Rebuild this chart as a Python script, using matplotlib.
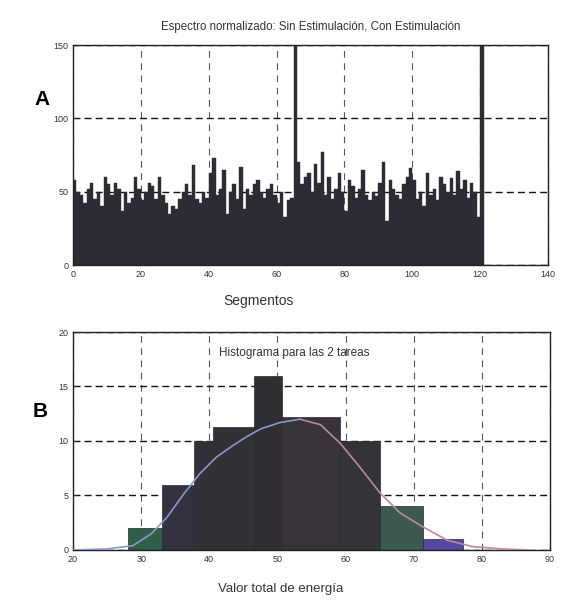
import numpy as np
import matplotlib
matplotlib.use("Agg")
import matplotlib.pyplot as plt

plt.rcParams['font.family'] = ['Liberation Sans', 'DejaVu Sans']

# Panel A: espectro normalizado por segmento
espectro = [58, 50, 48, 42, 52, 56, 45, 50, 40, 60, 55, 48, 56, 52, 37, 50, 42, 46, 60, 52,
            44, 50, 56, 54, 45, 60, 48, 42, 35, 40, 38, 45, 50, 55, 48, 68, 45, 42, 50, 46,
            63, 73, 48, 52, 65, 35, 50, 55, 45, 67, 38, 52, 48, 55, 58, 50, 46, 52, 55, 48,
            42, 50, 33, 44, 46, 150, 70, 55, 60, 63, 50, 69, 56, 77, 48, 60, 45, 52, 63, 50,
            37, 58, 54, 46, 52, 65, 48, 44, 50, 47, 56, 70, 30, 58, 52, 48, 45, 55, 60, 66,
            58, 45, 50, 40, 63, 48, 52, 44, 60, 55, 50, 59, 48, 64, 52, 58, 46, 56, 50, 33,
            150]
segmentos = np.arange(len(espectro))

# Panel B: histograma de energia total
bordes = [28.1, 33.0, 37.7, 40.6, 46.5, 50.6, 59.2, 65.1, 71.4, 77.3]
conteos = [2, 6, 10, 11.3, 16, 12.2, 10, 4, 1]
colores_hist = ['#2f5f48', '#34323f', '#333038', '#333036', '#302e33', '#38333a',
                '#35333a', '#3c5a52', '#5548a0']

# curva ajustada
curva_x = [20, 25, 28.8, 31.5, 33.8, 36.2, 38.6, 41, 43.5, 45.5, 47.5, 50.4, 53.3, 56.3,
           59.2, 62.1, 65.1, 68, 71.4, 74.9, 78.7, 83, 87]
curva_y = [0, 0.1, 0.4, 1.5, 3.0, 5.1, 7.0, 8.5, 9.6, 10.4, 11.1, 11.7, 12.0, 11.5,
           9.8, 7.6, 5.2, 3.4, 2.1, 0.9, 0.3, 0.1, 0]
pico = 12  # indice del maximo de la curva

fig = plt.figure(figsize=(5.63, 6.02), dpi=100)

# ---- A ----
ax1 = fig.add_axes([0.1297, 0.5598, 0.8437, 0.3654])
ax1.bar(segmentos, espectro, width=1.0, align='edge', color='#2d2b33',
        edgecolor='#2d2b33', linewidth=0.3, zorder=2)
ax1.set_xlim(0, 140)
ax1.set_ylim(0, 150)
ax1.set_xticks(range(0, 141, 20))
ax1.set_yticks([0, 50, 100, 150])
ax1.set_title('Espectro normalizado: Sin Estimulación, Con Estimulación',
              fontsize=8.3, color='#333333', pad=11)
ax1.set_xlabel('Segmentos', fontsize=10, color='#333333')
ax1.xaxis.set_label_coords(0.39, -0.13)

# ---- B ----
ax2 = fig.add_axes([0.1297, 0.0864, 0.8472, 0.3621])
for i in range(len(conteos)):
    ax2.bar(bordes[i], conteos[i], width=bordes[i + 1] - bordes[i], align='edge',
            color=colores_hist[i], edgecolor='#2a282c', linewidth=0.5, zorder=2)
ax2.plot(curva_x[:pico + 1], curva_y[:pico + 1], color='#8a98cc', linewidth=1.2, zorder=3)
ax2.plot(curva_x[pico:], curva_y[pico:], color='#b88a9c', linewidth=1.2, zorder=3)
ax2.set_xlim(20, 90)
ax2.set_ylim(0, 20)
ax2.set_xticks(range(20, 91, 10))
ax2.set_yticks(range(0, 21, 5))
ax2.text(0.463, 0.905, 'Histograma para las 2 tareas', transform=ax2.transAxes,
         ha='center', va='center', fontsize=8.5, color='#333333', zorder=4)
ax2.set_xlabel('Valor total de energía', fontsize=9.5, color='#333333')
ax2.xaxis.set_label_coords(0.436, -0.15)

for ax in (ax1, ax2):
    ax.tick_params(direction='in', labelsize=6.5, colors='#333333', length=3)
    ax.xaxis.grid(True, linestyle=(0, (6, 5)), color='#555555', linewidth=0.8)
    ax.yaxis.grid(True, linestyle=(0, (5, 3)), color='#111111', linewidth=1.0)
    ax.set_axisbelow(True)
    for s in ax.spines.values():
        s.set_linewidth(1.0)
        s.set_color('#222222')

fig.text(0.075, 0.835, 'A', fontsize=15, fontweight='bold', ha='center', va='center')
fig.text(0.071, 0.317, 'B', fontsize=15, fontweight='bold', ha='center', va='center')

fig.savefig('out.png', dpi=100)
